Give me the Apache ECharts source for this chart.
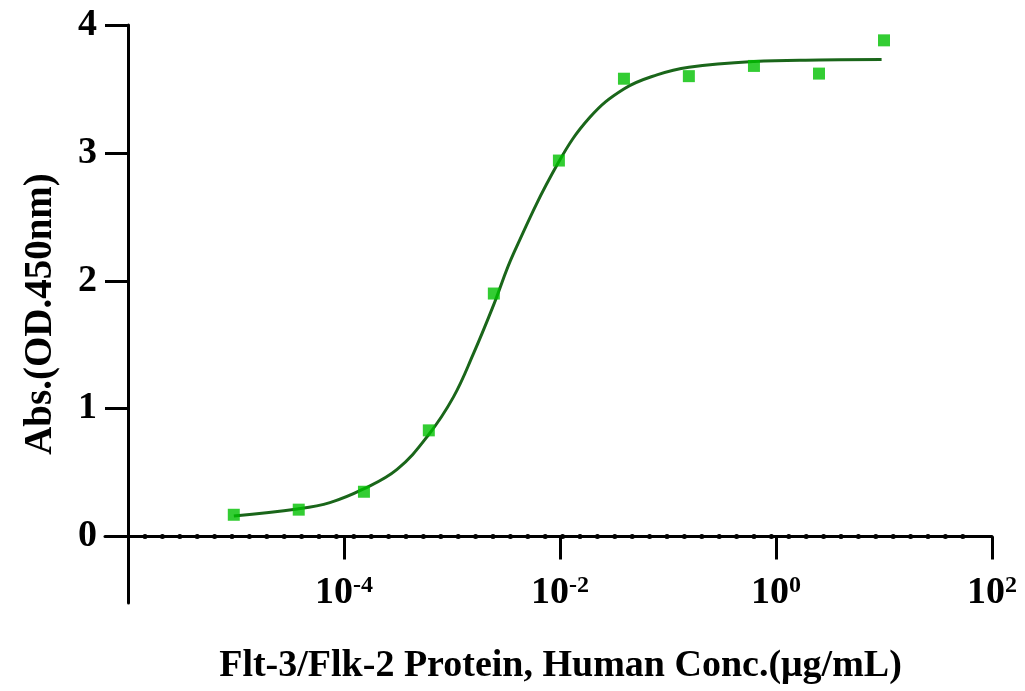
<!DOCTYPE html>
<html>
<head>
<meta charset="utf-8">
<script src="https://cdn.jsdelivr.net/npm/echarts@6/dist/echarts.min.js"></script>
<style>
html, body { margin: 0; padding: 0; background: #fff; }
#chart { width: 1025px; height: 691px; }
</style>
</head>
<body>
<div id="chart"></div>
<script>
// measured points (conc in ug/mL, absorbance)
var concs = [9.54e-6, 3.81e-5, 1.53e-4, 6.1e-4, 2.44e-3, 9.77e-3, 0.0391, 0.156, 0.625, 2.5, 10];
var absVals = [0.17, 0.21, 0.35, 0.83, 1.90, 2.94, 3.58, 3.60, 3.68, 3.62, 3.88];

// fitted curve
var fitConcs = [9.55e-6, 3.7e-5, 7.4e-5, 1.5e-4, 3.1e-4, 6.0e-4, 1.03e-3, 1.58e-3, 2.4e-3, 3.7e-3,
	9.6e-3, 1.9e-2, 3.9e-2, 7.9e-2, 0.156, 0.625, 2.5, 9.5];
var fitVals = [0.16, 0.215, 0.265, 0.37, 0.525, 0.79, 1.09, 1.43, 1.80, 2.21,
	2.92, 3.28, 3.50, 3.61, 3.67, 3.715, 3.727, 3.731];

var xTicks = [-4, -2, 0, 2];   // log10 exponents
var yTicks = [0, 1, 2, 3, 4];

var font = 'Liberation Serif';

function toLog(cs, vs) {
	var out = [];
	for (var i = 0; i < cs.length; i++) {
		out.push([Math.log10(cs[i]), vs[i]]);
	}
	return out;
}

var chart = echarts.init(document.getElementById('chart'));
var option = {
	animation : false,
	grid : {
		left : 105,
		right : 33,
		top : 25,
		bottom : 88,
		containLabel : false,
		outerBoundsMode : 'none'
	},
	xAxis : {
		type : 'value',
		min : -6.213,
		max : 2,
		name : 'Flt-3/Flk-2 Protein, Human Conc.(\u03bcg/mL)',
		nameLocation : 'middle',
		nameGap : 44,
		nameMoveOverlap : false,
		nameTextStyle : {
			fontFamily : font,
			fontWeight : 'bold',
			fontSize : 38,
			color : '#000',
			padding : [0, 0, 0, 24]
		},
		axisLine : {
			onZero : true,
			lineStyle : { color : '#000', width : 3 }
		},
		axisTick : {
			show : true,
			length : 23,
			customValues : xTicks,
			lineStyle : { color : '#000', width : 3 }
		},
		axisLabel : {
			customValues : xTicks,
			margin : -29,
			formatter : function(v) {
				return '{b|10}{s|' + v + '}';
			},
			rich : {
				b : {
					fontFamily : font,
					fontWeight : 'bold',
					fontSize : 38,
					color : '#000'
				},
				s : {
					fontFamily : font,
					fontWeight : 'bold',
					fontSize : 24,
					color : '#000',
					verticalAlign : 'top',
					padding : [0, 0, 12, 0]
				}
			}
		},
		splitLine : { show : false }
	},
	yAxis : {
		type : 'value',
		min : -0.52,
		max : 4,
		offset : -23,
		name : 'Abs.(OD.450nm)',
		nameLocation : 'middle',
		nameGap : 68,
		nameTextStyle : {
			fontFamily : font,
			fontWeight : 'bold',
			fontSize : 39,
			color : '#000'
		},
		axisLine : {
			show : true,
			onZero : false,
			lineStyle : { color : '#000', width : 3 }
		},
		axisTick : {
			show : true,
			length : 23,
			customValues : yTicks,
			lineStyle : { color : '#000', width : 3 }
		},
		axisLabel : {
			customValues : yTicks,
			margin : 31,
			fontFamily : font,
			fontWeight : 'bold',
			fontSize : 38,
			color : '#000'
		},
		splitLine : { show : false }
	},
	series : [ {
		name : 'fit',
		type : 'line',
		smooth : 0.4,
		symbol : 'none',
		data : toLog(fitConcs, fitVals),
		lineStyle : { color : '#1a661a', width : 3 },
		z : 3,
		markLine : {
			silent : true,
			symbol : 'none',
			label : { show : false },
			lineStyle : {
				color : '#000',
				width : 5,
				type : [0.1, 17.3],
				cap : 'round'
			},
			data : [ [ { coord : [-5.843, 0] }, { coord : [1.843, 0] } ] ]
		}
	}, {
		name : 'data',
		type : 'scatter',
		symbol : 'rect',
		symbolSize : 12,
		data : toLog(concs, absVals),
		itemStyle : { color : '#00c000' },
		z : 4
	} ]
};
chart.setOption(option);
</script>
</body>
</html>
